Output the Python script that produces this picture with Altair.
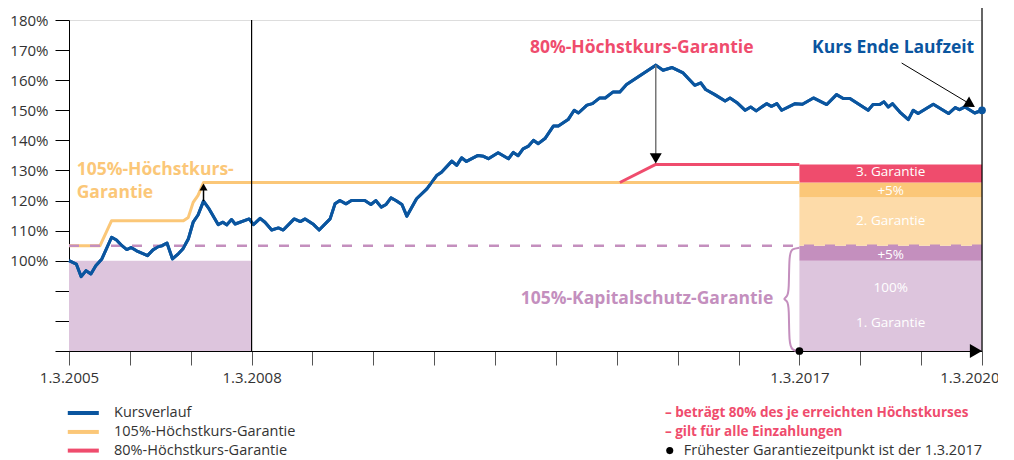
import altair as alt
import pandas as pd

FONT = "Open Sans"

# ---------------- data (x = years since 1.3.2005, y = value in %) ----------------
kurs_t = [0, 0.12, 0.20, 0.28, 0.36, 0.44, 0.54, 0.70, 0.78, 0.87,
          0.95, 1.02, 1.11, 1.29, 1.38, 1.47, 1.53, 1.61, 1.70, 1.80,
          1.87, 1.96, 2.04, 2.12, 2.21, 2.29, 2.45, 2.53, 2.59, 2.67,
          2.73, 2.96, 3.03, 3.14, 3.22, 3.33, 3.44, 3.52, 3.70, 3.80,
          3.88, 4.02, 4.11, 4.29, 4.37, 4.45, 4.55, 4.64, 4.86, 4.96,
          5.04, 5.13, 5.21, 5.29, 5.37, 5.47, 5.55, 5.71, 5.88, 6.04,
          6.12, 6.29, 6.37, 6.45, 6.53, 6.72, 6.81, 6.89, 7.05, 7.22,
          7.30, 7.38, 7.46, 7.55, 7.63, 7.71, 7.82, 7.96, 8.04, 8.20,
          8.30, 8.37, 8.51, 8.60, 8.72, 8.81, 8.94, 9.05, 9.16, 9.64,
          9.76, 9.91, 10.09, 10.28, 10.38, 10.46, 10.61, 10.78, 10.86, 10.97,
          11.11, 11.20, 11.29, 11.46, 11.54, 11.63, 11.71, 11.93, 12.05, 12.23,
          12.45, 12.61, 12.72, 12.83, 13.13, 13.21, 13.32, 13.39, 13.46, 13.53,
          13.65, 13.79, 13.87, 13.95, 14.20, 14.45, 14.56, 14.63, 14.72, 14.88,
          15.0]
kurs_v = [100, 98.9, 94.7, 96.7, 95.6, 98.3, 100.6, 107.8, 106.9, 105,
          103.7, 104.4, 103.3, 101.7, 103.6, 104.7, 105, 105.9, 100.6, 102.4,
          103.9, 107.2, 112.8, 115.2, 119.8, 117.6, 112, 112.8, 111.9, 113.7,
          112.2, 113.9, 112, 114.1, 112.8, 110.2, 110.9, 110.2, 113.9, 113,
          113.9, 112, 110.2, 113.9, 118.9, 120, 118.9, 120, 120, 118.7,
          120, 117.8, 118.7, 120.9, 120, 118.7, 114.8, 120.6, 123.9, 128.3,
          129.4, 133.1, 131.7, 134.2, 133, 135, 134.7, 133.9, 135.9, 133.9,
          136, 134.9, 137.2, 138.1, 140, 138.9, 140.6, 144.8, 144.8, 146.9,
          150, 149.1, 151.7, 152.2, 154.1, 154.1, 156.1, 156.1, 158.6, 165,
          163.3, 164.2, 162.4, 158.3, 159.1, 156.9, 155.2, 153.1, 154.1, 152.6,
          150, 151.1, 149.8, 152.2, 151.3, 152.2, 150, 152.2, 152, 154.1,
          151.9, 155.2, 153.9, 153.9, 150, 151.9, 151.9, 152.8, 151.1, 152.2,
          149.4, 146.9, 150, 148.9, 152, 148.9, 150.9, 150.2, 151.1, 149.1,
          150]

g105_t = [0, 0.51, 0.70, 1.88, 1.96, 2.04, 2.12, 2.21, 12.0]
g105_v = [105, 105, 113.3, 113.3, 114.4, 119.4, 121.7, 126, 126]
g80_t = [9.05, 9.64, 12.0]
g80_v = [126, 132, 132]

kapital_t = [0, 15]
kapital_v = [105, 105]

series_names = ["Kursverlauf", "105%-Höchstkurs-Garantie", "80%-Höchstkurs-Garantie"]
series_colors = ["#0a559f", "#fbc778", "#ef4c6d"]
purple_light = "#ddc5dd"
purple = "#c48fbe"

# initial capital area 1.3.2005 - 1.3.2008
area_t = [0, 3]
area_v = [70, 100]

# stacked guarantee boxes 1.3.2017 - 1.3.2020
box_t = [12, 15]
box_lo = [70, 100, 105, 121, 126]
box_hi = [100, 105, 121, 126, 132]
box_colors = [purple_light, purple, "#fddba9", "#fbc778", "#ef4c6d"]
box_labels = ["1. Garantie", "100%", "+5%", "2. Garantie", "+5%", "3. Garantie"]
box_label_v = [79.4, 90.8, 101.9, 113.1, 123.1, 129.5]
box_label_t = 13.5

x_tick_values = list(range(0, 16))
x_tick_labels = {0: "1.3.2005", 3: "1.3.2008", 12: "1.3.2017"}
last_tick_label = "1.3.2020"
y_tick_values = list(range(70, 181, 10))

# legend / notes below the chart (rows in chart units)
legend_rows_v = [49.4, 43.1, 36.9]
notes_red = ["–  beträgt 80% des je erreichten Höchstkurses", "–  gilt für alle Einzahlungen"]
note_black = "Frühester Garantiezeitpunkt ist der 1.3.2017"

# ---------------- tables ----------------
lines_df = pd.concat([
    pd.DataFrame({"t": kurs_t, "v": kurs_v, "series": series_names[0]}),
    pd.DataFrame({"t": g105_t, "v": g105_v, "series": series_names[1]}),
    pd.DataFrame({"t": g80_t, "v": g80_v, "series": series_names[2]}),
], ignore_index=True)
kurs_df = pd.DataFrame({"t": kurs_t, "v": kurs_v})
kap_df = pd.DataFrame({"t": kapital_t, "v": kapital_v})
area_df = pd.DataFrame({"t": [area_t[0]], "t2": [area_t[1]], "v": [area_v[0]], "v2": [area_v[1]]})
box_df = pd.DataFrame({"t": box_t[0], "t2": box_t[1], "v": box_lo, "v2": box_hi,
                       "c": box_colors, "k": list(range(len(box_lo)))})
box_lab_df = pd.DataFrame({"t": box_label_t, "v": box_label_v, "label": box_labels})

x_expr = " : ".join(f"datum.value == {k} ? '{v}'" for k, v in x_tick_labels.items()) + " : ''"

xscale = alt.Scale(domain=[0, 15], nice=False, zero=False)
yscale = alt.Scale(domain=[70, 180], nice=False, zero=False)
xaxis = alt.Axis(values=x_tick_values, labelExpr=x_expr, title=None, tickSize=14,
                 tickColor="#555", domainColor="#000", labelPadding=5, labelFontSize=15,
                 labelColor="#333", labelFont=FONT, grid=False, labelAngle=0,
                 labelOverlap=False, labelFlush=False)
yaxis = alt.Axis(values=y_tick_values, labelExpr="datum.value >= 100 ? datum.value + '%' : ''",
                 title=None, tickSize=14, tickColor="#000", domainColor="#000",
                 labelPadding=7, labelFontSize=15, labelColor="#333", labelFont=FONT,
                 grid=False)
X = alt.X("t:Q", scale=xscale, axis=xaxis)
Y = alt.Y("v:Q", scale=yscale, axis=yaxis)

area = alt.Chart(area_df).mark_rect(color=purple_light).encode(x=X, x2="t2:Q", y=Y, y2="v2:Q")
boxes = alt.Chart(box_df).mark_rect().encode(
    x=X, x2="t2:Q", y=Y, y2="v2:Q",
    color=alt.Color("c:N", scale=None))

lines = alt.Chart(lines_df).mark_line(strokeWidth=3, strokeJoin="round").encode(
    x=X, y=Y,
    color=alt.Color("series:N",
                    scale=alt.Scale(domain=series_names, range=series_colors),
                    legend=None),
    detail="series:N")

kapital = alt.Chart(kap_df).mark_line(color=purple, strokeWidth=2.5, strokeDash=[10, 11]).encode(x=X, y=Y)
kurs_top = alt.Chart(kurs_df).mark_line(color=series_colors[0], strokeWidth=3, strokeJoin="round").encode(x=X, y=Y)

# vertical rules at 1.3.2008 and 1.3.2020
vrule_df = pd.DataFrame({"t": [3, 15], "v": [70, 70], "v2": [180, 186.7]})
vrules = alt.Chart(vrule_df).mark_rule(color="#000", strokeWidth=1.2).encode(x=X, y=Y, y2="v2:Q")

# last x tick label, shifted left of its tick as in the original
last_lab_df = pd.DataFrame({"t": [14.80], "v": [61.0], "label": [last_tick_label]})
last_lab = alt.Chart(last_lab_df).mark_text(align="center", baseline="middle", font=FONT,
                                            fontSize=15, color="#333").encode(
    x=X, y=Y, text="label:N")

# arrows
stem_df = pd.DataFrame({"t": [2.21, 9.64], "v": [119.8, 165], "v2": [124, 135],
                        "c": ["#000", "#777"]})
stems = alt.Chart(stem_df).mark_rule(strokeWidth=1.5).encode(
    x=X, y=Y, y2="v2:Q", color=alt.Color("c:N", scale=None))
diag_df = pd.DataFrame({"t": [13.68], "t2": [14.76], "v": [165.7], "v2": [152.6]})
diag = alt.Chart(diag_df).mark_rule(color="#000", strokeWidth=1).encode(x=X, x2="t2:Q", y=Y, y2="v2:Q")

heads_df = pd.DataFrame({
    "t": [2.21, 9.64, 14.81, 14.90],
    "v": [124.5, 134.0, 152.0, 70],
    "shape": ["triangle-up", "triangle-down", "triangle-right", "triangle-right"],
    "size": [64, 144, 144, 196],
    "angle": [0, 0, 31, 0],
})
heads = alt.Chart(heads_df).mark_point(filled=True, color="#000", opacity=1, strokeWidth=0).encode(
    x=X, y=Y,
    shape=alt.Shape("shape:N", scale=None),
    size=alt.Size("size:Q", scale=None),
    angle=alt.Angle("angle:Q", scale=None))

dots_df = pd.DataFrame({"t": [12, 15], "v": [70, 150], "c": ["#000", series_colors[0]]})
dots = alt.Chart(dots_df).mark_circle(size=60, opacity=1).encode(
    x=X, y=Y, color=alt.Color("c:N", scale=None))

# brace for Kapitalschutz
brace_t = [12.0, 11.88, 11.83, 11.83, 11.80, 11.73, 11.80, 11.83, 11.83, 11.88, 12.0]
brace_v = [104.3, 104.0, 102.3, 90.0, 88.0, 87.3, 86.7, 84.7, 72.3, 70.3, 69.7]
brace_df = pd.DataFrame({"t": brace_t, "v": brace_v, "o": list(range(len(brace_t)))})
brace = alt.Chart(brace_df).mark_line(color=purple, strokeWidth=2, interpolate="basis").encode(
    x=X, y=Y, order="o:Q")

# annotation texts
ann_df = pd.DataFrame({
    "t": [0.126, 0.126, 9.41, 13.54, 11.57],
    "v": [130.0, 122.4, 170.7, 170.7, 87.2],
    "label": ["105%-Höchstkurs-", "Garantie", "80%-Höchstkurs-Garantie",
              "Kurs Ende Laufzeit", "105%-Kapitalschutz-Garantie"],
    "c": [series_colors[1], series_colors[1], series_colors[2], series_colors[0], purple],
    "a": ["left", "left", "center", "center", "right"],
})
ann_parts = []
for al in ["left", "center", "right"]:
    sub = ann_df[ann_df["a"] == al]
    ann_parts.append(alt.Chart(sub).mark_text(align=al, baseline="middle", font=FONT,
                                              fontSize=17.5, fontWeight="bold").encode(
        x=X, y=Y, text="label:N", color=alt.Color("c:N", scale=None)))

box_text = alt.Chart(box_lab_df).mark_text(align="center", baseline="middle", font=FONT,
                                            fontSize=13.5, color="white").encode(
    x=X, y=Y, text="label:N")

# manual legend (left, below chart)
leg_df = pd.DataFrame({"t": -0.02, "t2": 0.49, "v": legend_rows_v,
                       "c": series_colors, "label": series_names, "tl": 0.74})
leg_lines = alt.Chart(leg_df).mark_rule(strokeWidth=4).encode(
    x=X, x2="t2:Q", y=Y, color=alt.Color("c:N", scale=None))
leg_text = alt.Chart(leg_df).mark_text(align="left", baseline="middle", font=FONT, fontSize=14.5,
                                       color="#333").encode(
    x=alt.X("tl:Q", scale=xscale, axis=xaxis), y=Y, text="label:N")

# right-hand notes under the chart
note_df = pd.DataFrame({"t": 9.79, "v": legend_rows_v[:2], "label": notes_red})
notes = alt.Chart(note_df).mark_text(align="left", baseline="middle", font=FONT, fontSize=13.5,
                                     fontWeight="bold", color=series_colors[2]).encode(
    x=X, y=Y, text="label:N")
note3_df = pd.DataFrame({"t": [10.1], "v": [legend_rows_v[2]], "label": [note_black]})
note3 = alt.Chart(note3_df).mark_text(align="left", baseline="middle", font=FONT, fontSize=14.5,
                                      color="#333").encode(x=X, y=Y, text="label:N")
note_dot_df = pd.DataFrame({"t": [9.87], "v": [legend_rows_v[2]]})
note_dot = alt.Chart(note_dot_df).mark_circle(size=50, color="#000", opacity=1).encode(x=X, y=Y)

chart = alt.layer(
    area, boxes, lines, kapital, kurs_top, vrules, last_lab, stems, diag, heads, brace,
    *ann_parts, box_text, leg_lines, leg_text, notes, note3, note_dot, dots
).properties(
    width=913, height=331,
    autosize=alt.AutoSizeParams(type="none"),
    padding={"left": 61, "top": 12, "right": 16, "bottom": 116},
).configure_view(stroke=None).configure(font=FONT)

chart.save("out.html", embed_options={"renderer": "svg", "actions": False})
